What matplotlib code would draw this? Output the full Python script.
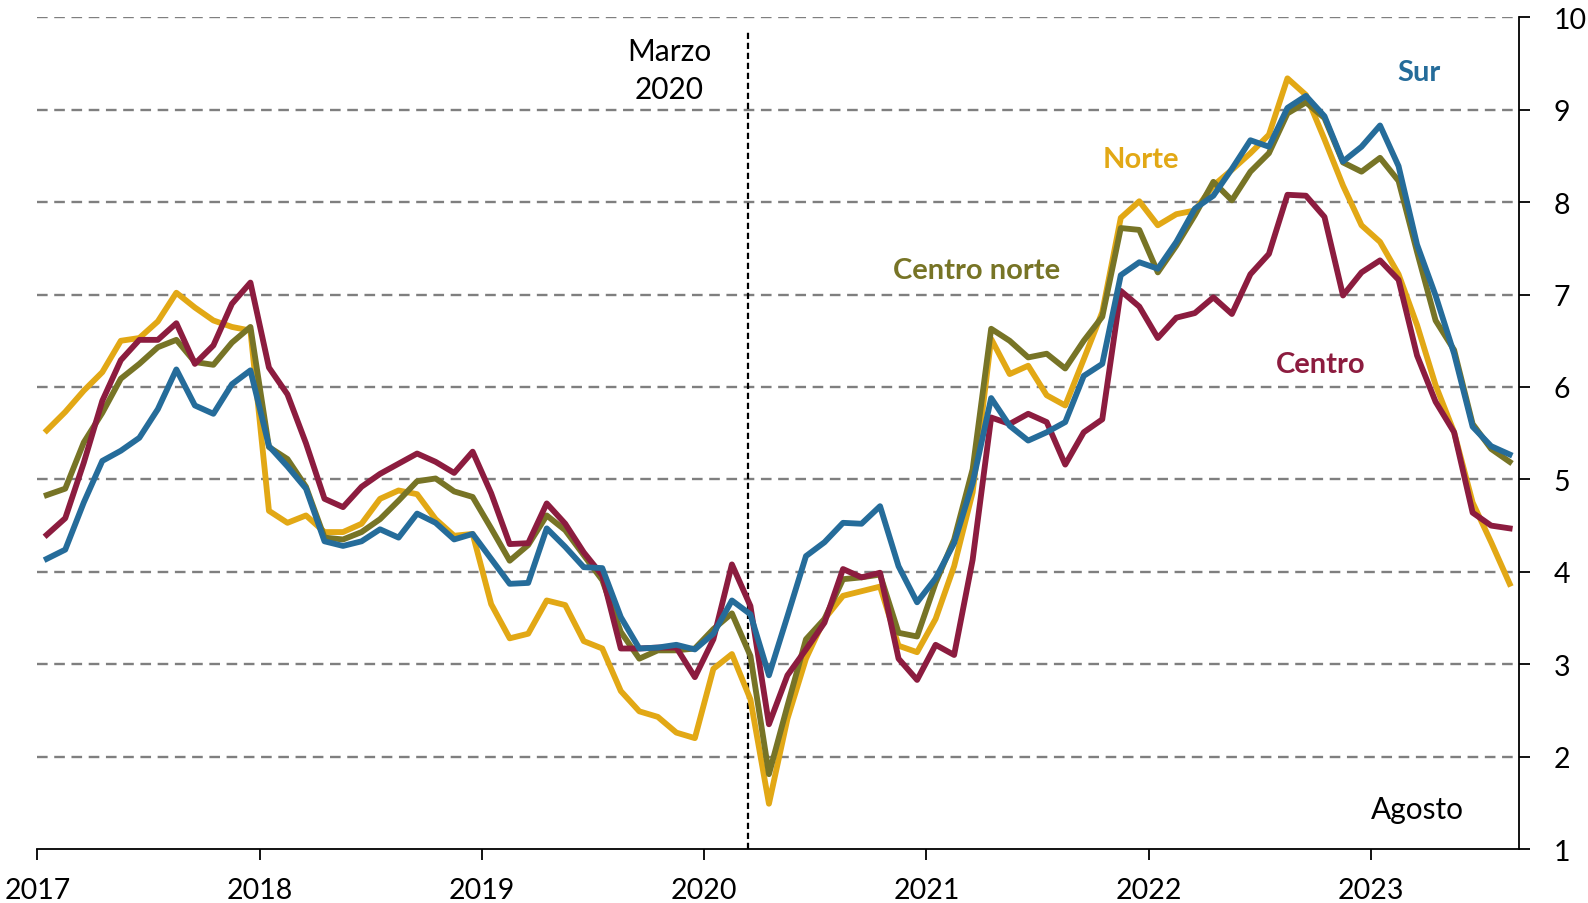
import matplotlib
matplotlib.use("Agg")
import matplotlib.pyplot as plt
import numpy as np

# Monthly values, Jan 2017 - Aug 2023
years = ["2017", "2018", "2019", "2020", "2021", "2022", "2023"]

norte = [5.53, 5.73, 5.96, 6.16, 6.50, 6.53, 6.71, 7.02, 6.86, 6.72, 6.65, 6.61,
         4.66, 4.53, 4.61, 4.43, 4.43, 4.52, 4.79, 4.88, 4.84, 4.57, 4.39, 4.41,
         3.65, 3.28, 3.33, 3.69, 3.64, 3.25, 3.17, 2.71, 2.49, 2.43, 2.26, 2.20,
         2.95, 3.11, 2.62, 1.49, 2.41, 3.06, 3.49, 3.74, 3.79, 3.84, 3.20, 3.13,
         3.49, 4.06, 4.86, 6.52, 6.14, 6.23, 5.91, 5.80, 6.30, 6.81, 7.83, 8.01,
         7.75, 7.87, 7.91, 8.18, 8.35, 8.53, 8.73, 9.34, 9.16, 8.68, 8.18, 7.75,
         7.57, 7.22, 6.67, 6.02, 5.51, 4.75, 4.32, 3.87]

centro_norte = [4.83, 4.90, 5.40, 5.72, 6.09, 6.25, 6.43, 6.51, 6.27, 6.24, 6.48, 6.65,
                5.35, 5.22, 4.92, 4.37, 4.35, 4.43, 4.57, 4.77, 4.98, 5.01, 4.87, 4.81,
                4.47, 4.12, 4.29, 4.61, 4.45, 4.18, 3.91, 3.35, 3.06, 3.15, 3.15, 3.17,
                3.38, 3.55, 3.09, 1.81, 2.55, 3.27, 3.49, 3.92, 3.94, 3.97, 3.34, 3.30,
                3.88, 4.35, 5.11, 6.63, 6.50, 6.32, 6.36, 6.20, 6.50, 6.76, 7.72, 7.70,
                7.24, 7.53, 7.86, 8.22, 8.02, 8.33, 8.53, 8.96, 9.08, 8.91, 8.43, 8.33,
                8.48, 8.23, 7.46, 6.72, 6.40, 5.60, 5.33, 5.19]

centro = [4.40, 4.58, 5.18, 5.85, 6.29, 6.51, 6.51, 6.69, 6.25, 6.45, 6.90, 7.13,
          6.21, 5.92, 5.39, 4.79, 4.70, 4.92, 5.06, 5.17, 5.28, 5.19, 5.07, 5.30,
          4.85, 4.30, 4.31, 4.74, 4.52, 4.21, 3.96, 3.17, 3.17, 3.18, 3.18, 2.86,
          3.27, 4.08, 3.63, 2.35, 2.88, 3.16, 3.45, 4.03, 3.94, 3.99, 3.06, 2.83,
          3.21, 3.10, 4.13, 5.67, 5.60, 5.71, 5.62, 5.16, 5.51, 5.65, 7.04, 6.87,
          6.53, 6.75, 6.80, 6.97, 6.79, 7.22, 7.44, 8.08, 8.07, 7.84, 6.99, 7.24,
          7.37, 7.16, 6.34, 5.84, 5.51, 4.64, 4.50, 4.47]

sur = [4.14, 4.24, 4.75, 5.20, 5.31, 5.45, 5.76, 6.19, 5.80, 5.71, 6.03, 6.18,
       5.36, 5.14, 4.90, 4.33, 4.28, 4.33, 4.46, 4.37, 4.63, 4.53, 4.35, 4.41,
       4.14, 3.87, 3.88, 4.47, 4.27, 4.05, 4.04, 3.51, 3.17, 3.18, 3.21, 3.16,
       3.33, 3.69, 3.54, 2.88, 3.52, 4.17, 4.32, 4.53, 4.52, 4.71, 4.06, 3.67,
       3.93, 4.31, 4.96, 5.88, 5.58, 5.42, 5.51, 5.62, 6.12, 6.25, 7.21, 7.35,
       7.28, 7.57, 7.93, 8.07, 8.36, 8.67, 8.60, 9.02, 9.15, 8.93, 8.44, 8.60,
       8.83, 8.39, 7.54, 6.99, 6.36, 5.57, 5.36, 5.27]

YELLOW = "#E2A815"
OLIVE = "#777426"
RED = "#8C1C3F"
BLUE = "#256C9A"

plt.rcParams["font.family"] = ["Lato", "DejaVu Sans"]

fig = plt.figure(figsize=(15.88, 9.04), dpi=100)
ax = fig.add_axes([0.0236, 0.0597, 0.9329, 0.92])

x = np.arange(len(norte))

# Dashed horizontal gridlines
for y in range(2, 11):
    ax.axhline(y, color="#7f7f7f", lw=1.7, ls=(0, (4.5, 2.8)), zorder=1)

# Marzo 2020 marker
ax.axvline(37.85, ymax=0.985, color="black", lw=1.6, ls=(0, (2.8, 1.7)), zorder=2)

ax.plot(x, norte, color=YELLOW, lw=4.2, zorder=3)
ax.plot(x, centro_norte, color=OLIVE, lw=4.2, zorder=4)
ax.plot(x, centro, color=RED, lw=4.2, zorder=5)
ax.plot(x, sur, color=BLUE, lw=4.2, zorder=6)

ax.set_xlim(-0.5, 79.5)
ax.set_ylim(1, 10)

ax.set_xticks([-0.5 + 12 * k for k in range(len(years))])
ax.set_xticklabels(years)
ax.set_yticks(range(1, 11))

ax.yaxis.tick_right()
ax.spines["top"].set_visible(False)
ax.spines["left"].set_visible(False)
ax.spines["right"].set_linewidth(1.3)
ax.spines["bottom"].set_linewidth(1.3)
ax.tick_params(axis="both", labelsize=20.5, length=8, width=1.3, direction="out")
ax.tick_params(axis="x", pad=12)
ax.tick_params(axis="y", pad=17)

ax.text(33.6, 9.43, "Marzo\n2020", ha="center", va="center", fontsize=21.5,
        linespacing=1.45)
ax.text(74.0, 1.43, "Agosto", ha="center", va="center", fontsize=21.5)

ax.text(59.1, 8.47, "Norte", color=YELLOW, fontsize=21, fontweight="bold",
        ha="center", va="center")
ax.text(74.1, 9.41, "Sur", color=BLUE, fontsize=21, fontweight="bold",
        ha="center", va="center")
ax.text(50.2, 7.27, "Centro norte", color=OLIVE, fontsize=21, fontweight="bold",
        ha="center", va="center")
ax.text(68.8, 6.25, "Centro", color=RED, fontsize=21, fontweight="bold",
        ha="center", va="center")

fig.savefig("out.png", dpi=100)
